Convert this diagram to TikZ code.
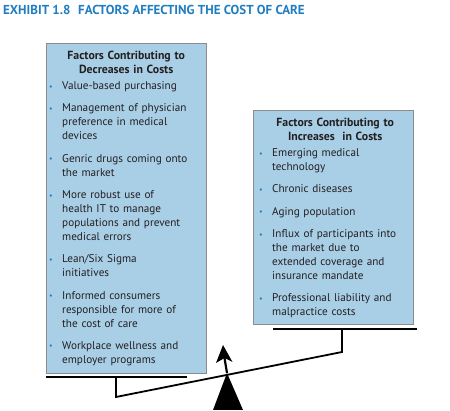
\documentclass[tikz,border=0pt]{standalone}
\usepackage{fontspec}
\setmainfont{PT Sans}
\usepackage{tikz}
\usetikzlibrary{arrows.meta, positioning}
\definecolor{exhibitblue}{HTML}{1F7DC1}
\definecolor{boxblue}{HTML}{A9CFE7}
\definecolor{boxedge}{HTML}{8C8C8C}
\definecolor{bodytext}{HTML}{231F20}
\newcommand{\factorhead}[1]{{\centering\fontsize{11.8}{14}\selectfont\bfseries #1\par}\vspace{2pt}}
\newcommand{\factoritem}[1]{\par\hangindent=13pt\hangafter=1\noindent
  \makebox[13pt][l]{\raisebox{0.5pt}{\textcolor{exhibitblue}{\fontsize{8}{8}\selectfont\textbullet}}}#1\par\vspace{8.3pt}}

\begin{document}
\begin{tikzpicture}[x=1pt, y=-1pt, every node/.style={font=\fontsize{11.2}{14}\selectfont, text=bodytext}]
    \tikzset{
      factorbox/.style={rectangle, draw=boxedge, line width=0.8pt, fill=boxblue,
                        anchor=north west, inner sep=0pt},
      factortext/.style={anchor=north west, inner sep=0pt, text width=#1, align=left},
      scalebar/.style={line width=1.8pt, line cap=butt, line join=miter}}
    \useasboundingbox (0,0) rectangle (450,411);
    \node[anchor=west, inner sep=0pt, text=exhibitblue, font=\fontsize{13}{14}\selectfont\bfseries]
      (title) at (3,10) {EXHIBIT 1.8\hspace{0.6em}FACTORS AFFECTING THE COST OF CARE};
    \node[factorbox, minimum width=160pt, minimum height=330pt] (decbox) at (46,43) {};
    \node[factorbox, minimum width=160pt, minimum height=214pt] (incbox) at (253,110) {};
    \node[factortext=154pt] (dectext) at (49,51) {%
      \factorhead{Factors Contributing to\\Decreases in Costs}
      \factoritem{Value-based purchasing}
      \factoritem{Management of physician\newline preference in medical\newline devices}
      \factoritem{Genric drugs coming onto\newline the market}
      \factoritem{More robust use of\newline health IT to manage\newline populations and prevent\newline medical errors}
      \factoritem{Lean/Six Sigma\newline initiatives}
      \factoritem{Informed consumers\newline responsible for more of\newline the cost of care}
      \factoritem{Workplace wellness and\newline employer programs}};
    \node[factortext=152pt] (inctext) at (259,118) {%
      \factorhead{Factors Contributing to\\Increases\ \ in Costs}
      \factoritem{Emerging medical\newline technology}
      \factoritem{Chronic diseases}
      \factoritem{Aging population}
      \factoritem{Influx of participants into\newline the market due to\newline extended coverage and\newline insurance mandate}
      \factoritem{Professional liability and\newline malpractice costs}};
    \coordinate (pivot) at (227,373);
    \coordinate (leftarm) at (116,397);
    \coordinate (rightarm) at (342,352);
    \coordinate (tip) at (223,345);
    \coordinate (notch) at (224.5,358);
    \draw[scalebar] (46,377) -- (187,377);
    \draw[scalebar] (273,329) -- (417,329);
    \draw[scalebar] (116,377) -- (leftarm) -- (rightarm) -- (342,329);
    \fill (pivot) -- (213,410) -- (243,410) -- cycle;
    \draw[line width=2.2pt] (pivot) -- (notch);
    \fill (tip) -- (232.5,362) -- (notch) -- (216,363) -- cycle;
  \end{tikzpicture}
\end{document}
